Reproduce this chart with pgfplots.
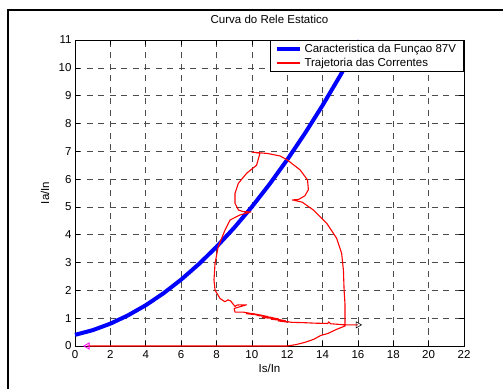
\documentclass[border=0pt]{standalone}
\usepackage{fontspec}
\setmainfont{Liberation Sans}
\usepackage{pgfplots}
\pgfplotsset{compat=1.18}
\definecolor{mblue}{RGB}{0,0,255}
\definecolor{mred}{RGB}{255,0,0}
\definecolor{mmag}{RGB}{255,0,255}
\newcommand{\ff}{\fontsize{11.5}{13}\selectfont}
\begin{document}
\begin{tikzpicture}
\useasboundingbox (0pt,0pt) rectangle (503pt,388pt);
\clip (0pt,0pt) rectangle (503pt,388pt);
\draw[line width=2.4pt] (8pt,-10pt) -- (8pt,378pt) -- (520pt,378pt);
\begin{axis}[
  at={(75pt,42pt)}, anchor=south west,
  scale only axis, width=389pt, height=306pt,
  xmin=0, xmax=22, ymin=0, ymax=11,
  xtick={0,2,...,22}, ytick={0,1,...,11},
  /pgf/number format/assume math mode=true,
  tick label style={font=\ff},
  xticklabel style={yshift=-1pt},
  grid=major,
  major grid style={black!70, line width=0.6pt, dash pattern=on 6pt off 5.5pt},
  tick align=inside,
  major tick length=5pt,
  tick style={black, line width=0.6pt},
  axis line style={black, line width=0.8pt},
  clip=false,
  title={Curva do Rele Estatico},
  title style={font=\ff, at={(axis description cs:0.5,1.0327)}, anchor=base},
  xlabel={Is/In},
  xlabel style={font=\ff, at={(axis description cs:0.5,-0.0882)}, anchor=base},
  ylabel={Ia/In},
  ylabel style={font=\ff, at={(axis description cs:-0.0668,0.5)}, anchor=base},
  legend style={font=\ff, at={(axis description cs:1,1)}, anchor=north east,
    draw=black, line width=1pt, fill=white, inner xsep=4.5pt, inner ysep=1.8pt, row sep=0pt,
    nodes={inner xsep=3pt, inner ysep=2pt}},
  legend cell align=left,
  legend image code/.code={\draw[#1] (0pt,0pt) -- (23pt,0pt);},
]
\addplot[mblue, line width=4pt] coordinates {
(0,0.400) (1,0.569) (2,0.803) (3,1.102) (4,1.465) (5,1.893) (6,2.385)
(7,2.942) (8,3.563) (9,4.249) (10,5.000) (11,5.815) (12,6.695) (13,7.640)
(14,8.649) (15,9.723) (16,10.861) (16.1,10.978)
};
\addlegendentry{Caracteristica da Funçao 87V}
\addplot[color=mred, line width=1.1pt, line join=round] coordinates {
(0.7,0) (12.0,0.0) (12.5,0.05) (13.0,0.13) (13.5,0.24) (13.9,0.38) (14.3,0.45)
(14.8,0.6) (15.27,0.72) (15.27,1.5) (15.22,2.0) (15.18,2.73) (15.08,3.33)
(14.8,3.87) (14.24,4.41) (13.48,4.89) (12.85,5.17) (12.3,5.25) (12.65,5.27)
(13.0,5.4) (13.2,5.62) (13.15,5.97) (12.73,6.33) (12.0,6.69) (11.6,6.83)
(10.9,6.92) (10.0,6.97) (10.46,6.93) (10.27,6.5) (9.71,6.21) (9.24,5.85)
(9.05,5.49) (9.05,5.13) (9.24,4.89) (9.52,4.83) (9.95,4.82) (9.33,4.71)
(8.77,4.53) (8.48,4.16) (8.1,3.57) (7.92,2.97) (7.86,2.37) (7.92,2.01)
(8.2,1.71) (8.48,1.59) (8.65,1.66) (8.8,1.62) (8.95,1.5) (9.05,1.42)
(9.15,1.47) (9.35,1.48) (9.7,1.48) (9.0,1.35) (9.05,1.22) (9.5,1.22)
(10.2,1.14) (9.7,1.16) (10.6,1.10) (10.0,1.17) (10.9,1.06) (10.3,1.10)
(11.2,1.02) (10.6,1.02) (11.5,0.98) (10.9,1.03) (11.7,0.93) (11.1,0.96)
(11.9,0.91) (11.3,0.97) (12.0,0.86) (11.5,0.90) (12.1,0.87) (11.7,0.89)
(12.3,0.85) (12.9,0.84) (13.6,0.82) (14.3,0.81) (14.35,0.87) (14.45,0.8)
(15.27,0.76) (16.0,0.76)
};
\addlegendentry{Trajetoria das Correntes}
\addplot[forget plot, only marks, mmag, mark=triangle, mark size=3.5pt, mark options={rotate=90, line width=0.8pt}] coordinates {(0.7,0)};
\addplot[forget plot, only marks, black, mark=triangle, mark size=3.5pt, mark options={rotate=-90, line width=0.6pt}] coordinates {(16.0,0.76)};
\end{axis}
\end{tikzpicture}
\end{document}
